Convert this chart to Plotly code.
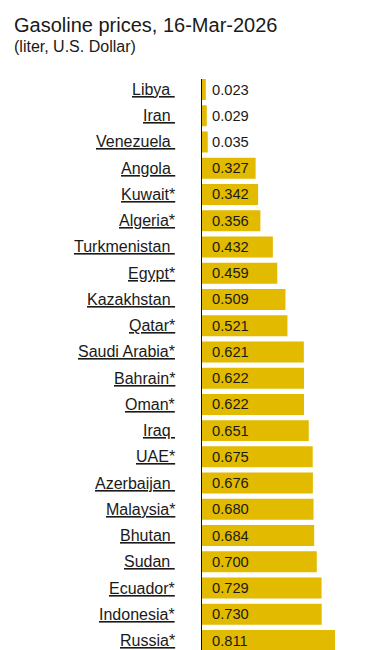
import plotly.graph_objects as go

countries = ["Libya", "Iran", "Venezuela", "Angola", "Kuwait*", "Algeria*", "Turkmenistan",
             "Egypt*", "Kazakhstan", "Qatar*", "Saudi Arabia*", "Bahrain*", "Oman*", "Iraq",
             "UAE*", "Azerbaijan", "Malaysia*", "Bhutan", "Sudan", "Ecuador*", "Indonesia*", "Russia*"]
prices = [0.023, 0.029, 0.035, 0.327, 0.342, 0.356, 0.432, 0.459, 0.509, 0.521, 0.621, 0.622,
          0.622, 0.651, 0.675, 0.676, 0.680, 0.684, 0.700, 0.729, 0.730, 0.811]
title_text = "Gasoline prices, 16-Mar-2026"
subtitle_text = "(liter, U.S. Dollar)"

BAR = "#E2BA00"
FONT = "Arial, Liberation Sans, sans-serif"
TXT = "#1a1a1a"

# page body has an 8px default margin, so the figure is sized/offset to compensate
W, H = 375, 642
ml, mr, mt, mb = 194, 11, 71, 0
px_per_unit = 164.0
xmax = (W - ml - mr) / px_per_unit

fig = go.Figure()
fig.add_trace(go.Bar(
    x=prices, y=countries, orientation="h",
    marker=dict(color=BAR, line=dict(width=0)),
    hoverinfo="skip", showlegend=False,
))

annotations = []
for c, v in zip(countries, prices):
    annotations.append(dict(
        x=0, y=c, xref="x", yref="y", text=f"{v:.3f}", showarrow=False,
        xanchor="left", yanchor="middle", xshift=8,
        font=dict(family=FONT, size=14.7, color=TXT),
    ))
    label = c if c.endswith("*") else c + "\u00a0"
    annotations.append(dict(
        x=0, y=c, xref="paper", yref="y", text=f"<u>{label}</u>", showarrow=False,
        xanchor="right", yanchor="middle", xshift=-25,
        font=dict(family=FONT, size=16, color=TXT),
    ))

annotations.append(dict(
    x=0, y=1, xref="paper", yref="paper", text=title_text, showarrow=False,
    xanchor="left", yanchor="middle", xshift=13 - 8 - ml - 1, yshift=mt - 17,
    font=dict(family=FONT, size=20, color=TXT),
))
annotations.append(dict(
    x=0, y=1, xref="paper", yref="paper", text=subtitle_text, showarrow=False,
    xanchor="left", yanchor="middle", xshift=13 - 8 - ml - 1, yshift=mt - 38.5,
    font=dict(family=FONT, size=16, color=TXT),
))

fig.update_layout(
    width=W, height=H,
    margin=dict(l=ml, r=mr, t=mt, b=mb, pad=0),
    paper_bgcolor="white", plot_bgcolor="white",
    bargap=0.2,
    xaxis=dict(range=[0, xmax], visible=False, fixedrange=True),
    yaxis=dict(type="category", categoryorder="array", categoryarray=countries,
               range=[21.36, -0.40], showticklabels=False, ticks="",
               showgrid=False, zeroline=False, showline=True,
               linecolor="#111111", linewidth=1, fixedrange=True),
    annotations=annotations,
    font=dict(family=FONT, color=TXT),
)

fig.write_html("out.html", config={"displayModeBar": False})
